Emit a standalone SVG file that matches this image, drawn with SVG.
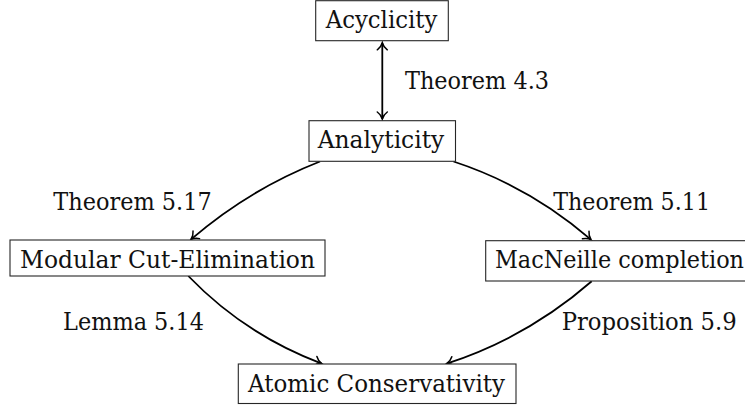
<svg xmlns="http://www.w3.org/2000/svg" width="745" height="405" viewBox="0 0 745 405">
<style>
.box{fill:#fff;stroke:#262626;stroke-width:1.1}
.lbl{font-family:"DejaVu Serif","Liberation Serif",serif;font-size:24px;fill:#111}
.edge{fill:none;stroke:#000;stroke-width:1.8}
</style>
<defs>
<marker id="tip" markerUnits="userSpaceOnUse" viewBox="-9 -7 11 14" refX="0" refY="0" markerWidth="11" markerHeight="14" orient="auto-start-reverse">
<path d="M -7,-5 C -5,-2.2 -2.2,-0.6 0,0 C -2.2,0.6 -5,2.2 -7,5" fill="none" stroke="#000" stroke-width="1.5" stroke-linecap="round"/>
</marker>
</defs>
<rect width="745" height="405" fill="#fff"/>
<g id="connectors">
<path class="edge" d="M 382.3,42.8 L 382.3,119" marker-start="url(#tip)" marker-end="url(#tip)"/>
<path class="edge" d="M 320,161.5 Q 249,189.4 191,239.4" marker-end="url(#tip)"/>
<path class="edge" d="M 453.5,161.5 Q 530,186.6 591,239.6" marker-end="url(#tip)"/>
<path class="edge" d="M 188.3,276 Q 245,334.8 321.7,363.6" marker-end="url(#tip)"/>
<path class="edge" d="M 591.7,281.3 Q 527.6,337.3 446.7,363.6" marker-end="url(#tip)"/>
<text class="lbl" x="405" y="89.3" textLength="144" lengthAdjust="spacingAndGlyphs">Theorem 4.3</text>
<text class="lbl" x="53.3" y="209.5" textLength="158.4" lengthAdjust="spacingAndGlyphs">Theorem 5.17</text>
<text class="lbl" x="553.3" y="209.5" textLength="156.7" lengthAdjust="spacingAndGlyphs">Theorem 5.11</text>
<text class="lbl" x="63" y="330" textLength="141" lengthAdjust="spacingAndGlyphs">Lemma 5.14</text>
<text class="lbl" x="561.7" y="330" textLength="175" lengthAdjust="spacingAndGlyphs">Proposition 5.9</text>
</g>
<g id="acyclicity">
<rect class="box" x="315.7" y="0.7" width="132.6" height="40"/>
<text class="lbl" x="325.7" y="27.7" textLength="111.6" lengthAdjust="spacingAndGlyphs">Acyclicity</text>
</g>
<g id="analyticity">
<rect class="box" x="309" y="120.7" width="146.5" height="40.6"/>
<text class="lbl" x="317.7" y="147.7" textLength="126.6" lengthAdjust="spacingAndGlyphs">Analyticity</text>
</g>
<g id="modular">
<rect class="box" x="10" y="240" width="315" height="36"/>
<text class="lbl" x="20" y="268" textLength="295" lengthAdjust="spacingAndGlyphs">Modular Cut-Elimination</text>
</g>
<g id="macneille">
<rect class="box" x="485.7" y="240.7" width="268.3" height="40.3"/>
<text class="lbl" x="495" y="267.5" textLength="249" lengthAdjust="spacingAndGlyphs">MacNeille completion</text>
</g>
<g id="atomic">
<rect class="box" x="238.3" y="364" width="277.7" height="39.5"/>
<text class="lbl" x="248" y="391.7" textLength="257" lengthAdjust="spacingAndGlyphs">Atomic Conservativity</text>
</g>
</svg>
